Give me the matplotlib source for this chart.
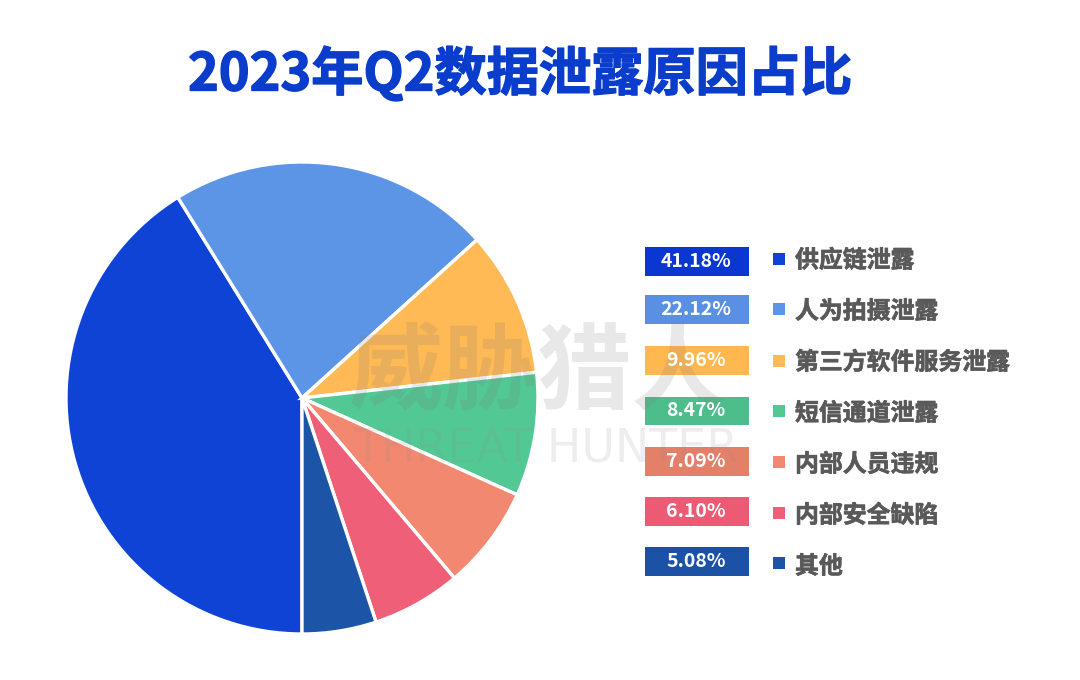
import matplotlib
matplotlib.use("Agg")
import matplotlib.pyplot as plt
import matplotlib.patheffects as pe
from matplotlib.patches import Rectangle

plt.rcParams['font.family'] = ['Noto Sans CJK SC', 'DejaVu Sans']

TITLE = "2023年Q2数据泄露原因占比"
categories = ["供应链泄露", "人为拍摄泄露", "第三方软件服务泄露", "短信通道泄露",
              "内部人员违规", "内部安全缺陷", "其他"]
values = [41.18, 22.12, 9.96, 8.47, 7.09, 6.10, 5.08]
value_labels = ["41.18%", "22.12%", "9.96%", "8.47%", "7.09%", "6.10%", "5.08%"]
pie_colors = ["#0F43D6", "#5D95E6", "#FFB955", "#52C995", "#F2886F", "#EF6078", "#1C54A8"]
badge_colors = ["#0A37D2", "#5A90E4", "#FFB84F", "#4DBD8C", "#E47F68", "#EC5A74", "#1B52A6"]

W, H = 1080, 680
fig = plt.figure(figsize=(W / 100, H / 100), dpi=100, facecolor="white")

# pie
cx, cy, r = 302, 398, 236
axp = fig.add_axes([(cx - r) / W, (H - cy - r) / H, 2 * r / W, 2 * r / H])
axp.pie(values, colors=pie_colors, startangle=270, counterclock=False, radius=1,
        wedgeprops=dict(edgecolor="white", linewidth=2.4), normalize=True)
axp.set_xlim(-1, 1)
axp.set_ylim(-1, 1)
axp.set_axis_off()
for p in axp.patches:
    p.set_clip_on(False)

# overlay in pixel coordinates
ax = fig.add_axes([0, 0, 1, 1], zorder=5)
ax.set_xlim(0, W)
ax.set_ylim(H, 0)
ax.set_axis_off()
ax.patch.set_alpha(0)

ax.text(520, 74, TITLE, ha="center", va="center", fontsize=37.6, fontweight="bold", color="#0A3DCB",
        path_effects=[pe.withStroke(linewidth=1.0, foreground="#0A3DCB")])

# watermark
ax.text(537, 375, "威胁猎人", ha="center", va="center", fontsize=68, fontweight="bold",
        color="#7A7A7A", alpha=0.17)
ax.text(546, 449, "THREAT HUNTER", ha="center", va="center", fontsize=33, family="DejaVu Sans",
        color="#8A8A8A", alpha=0.15)

# legend
badge_tops = [247, 295, 346, 396.5, 447, 497, 547]
square_mids = [259, 309, 360.5, 410.5, 462, 513, 563]
label_mids = [260.5, 311.5, 362.5, 413.5, 464.5, 515.5, 566.5]
for top, sm, lm, lab, val, pc, bc in zip(badge_tops, square_mids, label_mids, categories,
                                         value_labels, pie_colors, badge_colors):
    ax.add_patch(Rectangle((645, top), 104, 28.5, facecolor=bc, edgecolor="none"))
    ax.text(696, top + 14.5, val, ha="center", va="center", fontsize=14, fontweight="bold", color="white")
    ax.add_patch(Rectangle((773, sm - 6), 12, 12, facecolor=pc, edgecolor="none"))
    ax.text(795, lm, lab, ha="left", va="center", fontsize=17.2, fontweight="bold", color="#595959",
            path_effects=[pe.withStroke(linewidth=0.5, foreground="#595959")])

fig.savefig("out.png", dpi=100)
